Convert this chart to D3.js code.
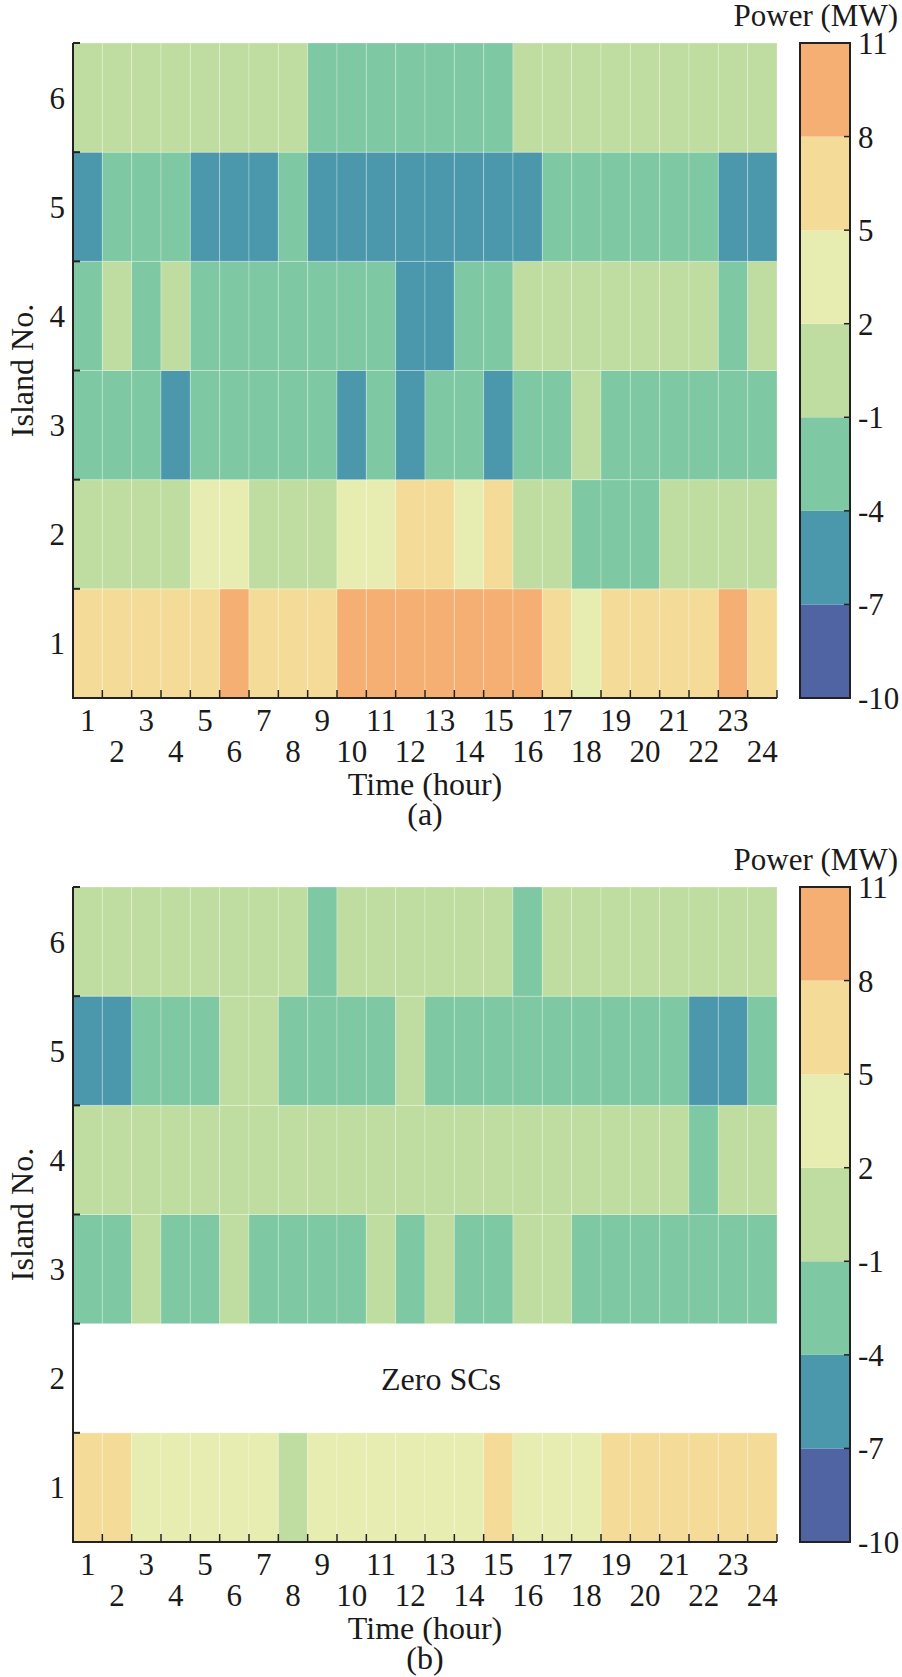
<!DOCTYPE html>
<html>
<head>
<meta charset="utf-8">
<script src="https://cdn.jsdelivr.net/npm/d3@7"></script>
<style>
  body { margin: 0; background: #fff; }
</style>
</head>
<body>
<svg width="902" height="1677" font-family="'Liberation Serif', 'DejaVu Serif', serif"></svg>
<script>
// hours on the x axis
var hours = [1, 2, 3, 4, 5, 6, 7, 8, 9, 10, 11, 12, 13, 14, 15, 16, 17, 18, 19, 20, 21, 22, 23, 24];
var islands = [6, 5, 4, 3, 2, 1];

// colour bins of the power colour bar (MW)
var binEdges = [-7, -4, -1, 2, 5, 8];
var binColors = ["#5064a4", "#4b98ad", "#7ec8a3", "#bfdda0", "#e7edb0", "#f4dc98", "#f5af72"];
var barTicks = [-10, -7, -4, -1, 2, 5, 8, 11];

// (a) power per island, hours 1..24
var a1 = [6.5, 6.5, 6.5, 6.5, 6.5, 9.5, 6.5, 6.5, 6.5, 9.5, 9.5, 9.5, 9.5, 9.5, 9.5, 9.5, 6.5, 3.5, 6.5, 6.5, 6.5, 6.5, 9.5, 6.5];
var a2 = [0.5, 0.5, 0.5, 0.5, 3.5, 3.5, 0.5, 0.5, 0.5, 3.5, 3.5, 6.5, 6.5, 3.5, 6.5, 0.5, 0.5, -2.5, -2.5, -2.5, 0.5, 0.5, 0.5, 0.5];
var a3 = [-2.5, -2.5, -2.5, -5.5, -2.5, -2.5, -2.5, -2.5, -2.5, -5.5, -2.5, -5.5, -2.5, -2.5, -5.5, -2.5, -2.5, 0.5, -2.5, -2.5, -2.5, -2.5, -2.5, -2.5];
var a4 = [-2.5, 0.5, -2.5, 0.5, -2.5, -2.5, -2.5, -2.5, -2.5, -2.5, -2.5, -5.5, -5.5, -2.5, -2.5, 0.5, 0.5, 0.5, 0.5, 0.5, 0.5, 0.5, -2.5, 0.5];
var a5 = [-5.5, -2.5, -2.5, -2.5, -5.5, -5.5, -5.5, -2.5, -5.5, -5.5, -5.5, -5.5, -5.5, -5.5, -5.5, -5.5, -2.5, -2.5, -2.5, -2.5, -2.5, -2.5, -5.5, -5.5];
var a6 = [0.5, 0.5, 0.5, 0.5, 0.5, 0.5, 0.5, 0.5, -2.5, -2.5, -2.5, -2.5, -2.5, -2.5, -2.5, 0.5, 0.5, 0.5, 0.5, 0.5, 0.5, 0.5, 0.5, 0.5];

// (b) power per island, island 2 has zero SCs
var b1 = [6.5, 6.5, 3.5, 3.5, 3.5, 3.5, 3.5, 0.5, 3.5, 3.5, 3.5, 3.5, 3.5, 3.5, 6.5, 3.5, 3.5, 3.5, 6.5, 6.5, 6.5, 6.5, 6.5, 6.5];
var b2 = null;
var b3 = [-2.5, -2.5, 0.5, -2.5, -2.5, 0.5, -2.5, -2.5, -2.5, -2.5, 0.5, -2.5, 0.5, -2.5, -2.5, 0.5, 0.5, -2.5, -2.5, -2.5, -2.5, -2.5, -2.5, -2.5];
var b4 = [0.5, 0.5, 0.5, 0.5, 0.5, 0.5, 0.5, 0.5, 0.5, 0.5, 0.5, 0.5, 0.5, 0.5, 0.5, 0.5, 0.5, 0.5, 0.5, 0.5, 0.5, -2.5, 0.5, 0.5];
var b5 = [-5.5, -5.5, -2.5, -2.5, -2.5, 0.5, 0.5, -2.5, -2.5, -2.5, -2.5, 0.5, -2.5, -2.5, -2.5, -2.5, -2.5, -2.5, -2.5, -2.5, -2.5, -5.5, -5.5, -2.5];
var b6 = [0.5, 0.5, 0.5, 0.5, 0.5, 0.5, 0.5, 0.5, -2.5, 0.5, 0.5, 0.5, 0.5, 0.5, 0.5, -2.5, 0.5, 0.5, 0.5, 0.5, 0.5, 0.5, 0.5, 0.5];

var svg = d3.select("svg");
var ink = "#1a1a1a";

var left = 73, right = 777, top0 = 43, bottom0 = 698;
var panelGap = 844;

var color = d3.scaleThreshold().domain(binEdges).range(binColors);

var x = d3.scaleBand().domain(hours).range([left, right]);
var y = d3.scaleBand().domain(islands).range([top0, bottom0]);
var cb = d3.scaleLinear().domain([-10, 11]).range([bottom0, top0]);

function drawPanel(rows, dy, tag) {
    var g = svg.append("g").attr("transform", "translate(0," + dy + ")");

    var cells = [];
    rows.forEach(function (vals, i) {
        var island = i + 1;
        if (!vals) return;
        vals.forEach(function (v, j) {
            cells.push({ island: island, hour: hours[j], value: v });
        });
    });

    g.selectAll("rect.cell")
        .data(cells)
        .enter()
        .append("rect")
        .attr("class", "cell")
        .attr("x", function (d) { return x(d.hour); })
        .attr("y", function (d) { return y(d.island); })
        .attr("width", x.bandwidth())
        .attr("height", y.bandwidth())
        .attr("fill", function (d) { return color(d.value); })
        .attr("stroke", "rgba(255,255,255,0.28)")
        .attr("stroke-width", 1);

    // empty island note
    rows.forEach(function (vals, i) {
        if (vals) return;
        g.append("text")
            .attr("x", 441)
            .attr("y", y(i + 1) + y.bandwidth() / 2 + 12)
            .attr("text-anchor", "middle")
            .attr("fill", ink)
            .style("font-size", "32px")
            .text("Zero SCs");
    });

    // axes lines
    g.append("line")
        .attr("x1", left).attr("x2", left)
        .attr("y1", top0).attr("y2", bottom0 + 1)
        .attr("stroke", "#222").attr("stroke-width", 2);
    g.append("line")
        .attr("x1", left - 1).attr("x2", right)
        .attr("y1", bottom0).attr("y2", bottom0)
        .attr("stroke", "#222").attr("stroke-width", 2);

    // x ticks at cell edges, pointing inward
    var edges = hours.map(function (h) { return x(h); }).concat([right]);
    g.selectAll("line.xt")
        .data(edges)
        .enter()
        .append("line")
        .attr("x1", function (d) { return d; })
        .attr("x2", function (d) { return d; })
        .attr("y1", bottom0)
        .attr("y2", bottom0 - 8)
        .attr("stroke", "#222").attr("stroke-width", 1.5);

    // y ticks at row edges
    var yEdges = islands.map(function (k) { return y(k); }).concat([bottom0]);
    g.selectAll("line.yt")
        .data(yEdges)
        .enter()
        .append("line")
        .attr("x1", left)
        .attr("x2", left + 7)
        .attr("y1", function (d) { return d; })
        .attr("y2", function (d) { return d; })
        .attr("stroke", "#222").attr("stroke-width", 2);

    // x tick labels, staggered in two lines
    g.selectAll("text.xl")
        .data(hours)
        .enter()
        .append("text")
        .attr("x", function (d) { return x(d) + x.bandwidth() / 2; })
        .attr("y", function (d) { return d % 2 ? 731 : 762; })
        .attr("text-anchor", "middle")
        .attr("fill", ink)
        .style("font-size", "31px")
        .text(function (d) { return d; });

    // y tick labels
    g.selectAll("text.yl")
        .data(islands)
        .enter()
        .append("text")
        .attr("x", 65)
        .attr("y", function (d) { return y(d) + y.bandwidth() / 2 + 11; })
        .attr("text-anchor", "end")
        .attr("fill", ink)
        .style("font-size", "31px")
        .text(function (d) { return d; });

    g.append("text")
        .attr("x", (left + right) / 2)
        .attr("y", 795)
        .attr("text-anchor", "middle")
        .attr("fill", ink)
        .style("font-size", "32px")
        .text("Time (hour)");

    g.append("text")
        .attr("transform", "translate(33," + (top0 + bottom0) / 2 + ") rotate(-90)")
        .attr("text-anchor", "middle")
        .attr("fill", ink)
        .style("font-size", "32px")
        .text("Island No.");

    g.append("text")
        .attr("x", (left + right) / 2)
        .attr("y", 825)
        .attr("text-anchor", "middle")
        .attr("fill", ink)
        .style("font-size", "32px")
        .text(tag);

    // colour bar
    var cbX = 800, cbW = 50;
    var segs = barTicks.slice(0, -1).map(function (v, i) { return [v, barTicks[i + 1]]; });
    g.selectAll("rect.seg")
        .data(segs)
        .enter()
        .append("rect")
        .attr("x", cbX)
        .attr("y", function (d) { return cb(d[1]); })
        .attr("width", cbW)
        .attr("height", function (d) { return cb(d[0]) - cb(d[1]); })
        .attr("fill", function (d) { return color((d[0] + d[1]) / 2); });
    g.append("rect")
        .attr("x", cbX).attr("y", top0)
        .attr("width", cbW).attr("height", bottom0 - top0)
        .attr("fill", "none").attr("stroke", "#222").attr("stroke-width", 2);
    g.selectAll("line.ct")
        .data(barTicks.slice(1, -1))
        .enter()
        .append("line")
        .attr("x1", cbX + cbW - 6).attr("x2", cbX + cbW)
        .attr("y1", function (d) { return cb(d); })
        .attr("y2", function (d) { return cb(d); })
        .attr("stroke", "#222").attr("stroke-width", 1.5);
    g.selectAll("text.cl")
        .data(barTicks)
        .enter()
        .append("text")
        .attr("x", 858)
        .attr("y", function (d) { return cb(d) + 11; })
        .attr("fill", ink)
        .style("font-size", "31px")
        .text(function (d) { return d; });

    g.append("text")
        .attr("x", 898)
        .attr("y", 26)
        .attr("text-anchor", "end")
        .attr("fill", ink)
        .style("font-size", "31px")
        .text("Power (MW)");
}

drawPanel([a1, a2, a3, a4, a5, a6], 0, "(a)");
drawPanel([b1, b2, b3, b4, b5, b6], panelGap, "(b)");
</script>
</body>
</html>
